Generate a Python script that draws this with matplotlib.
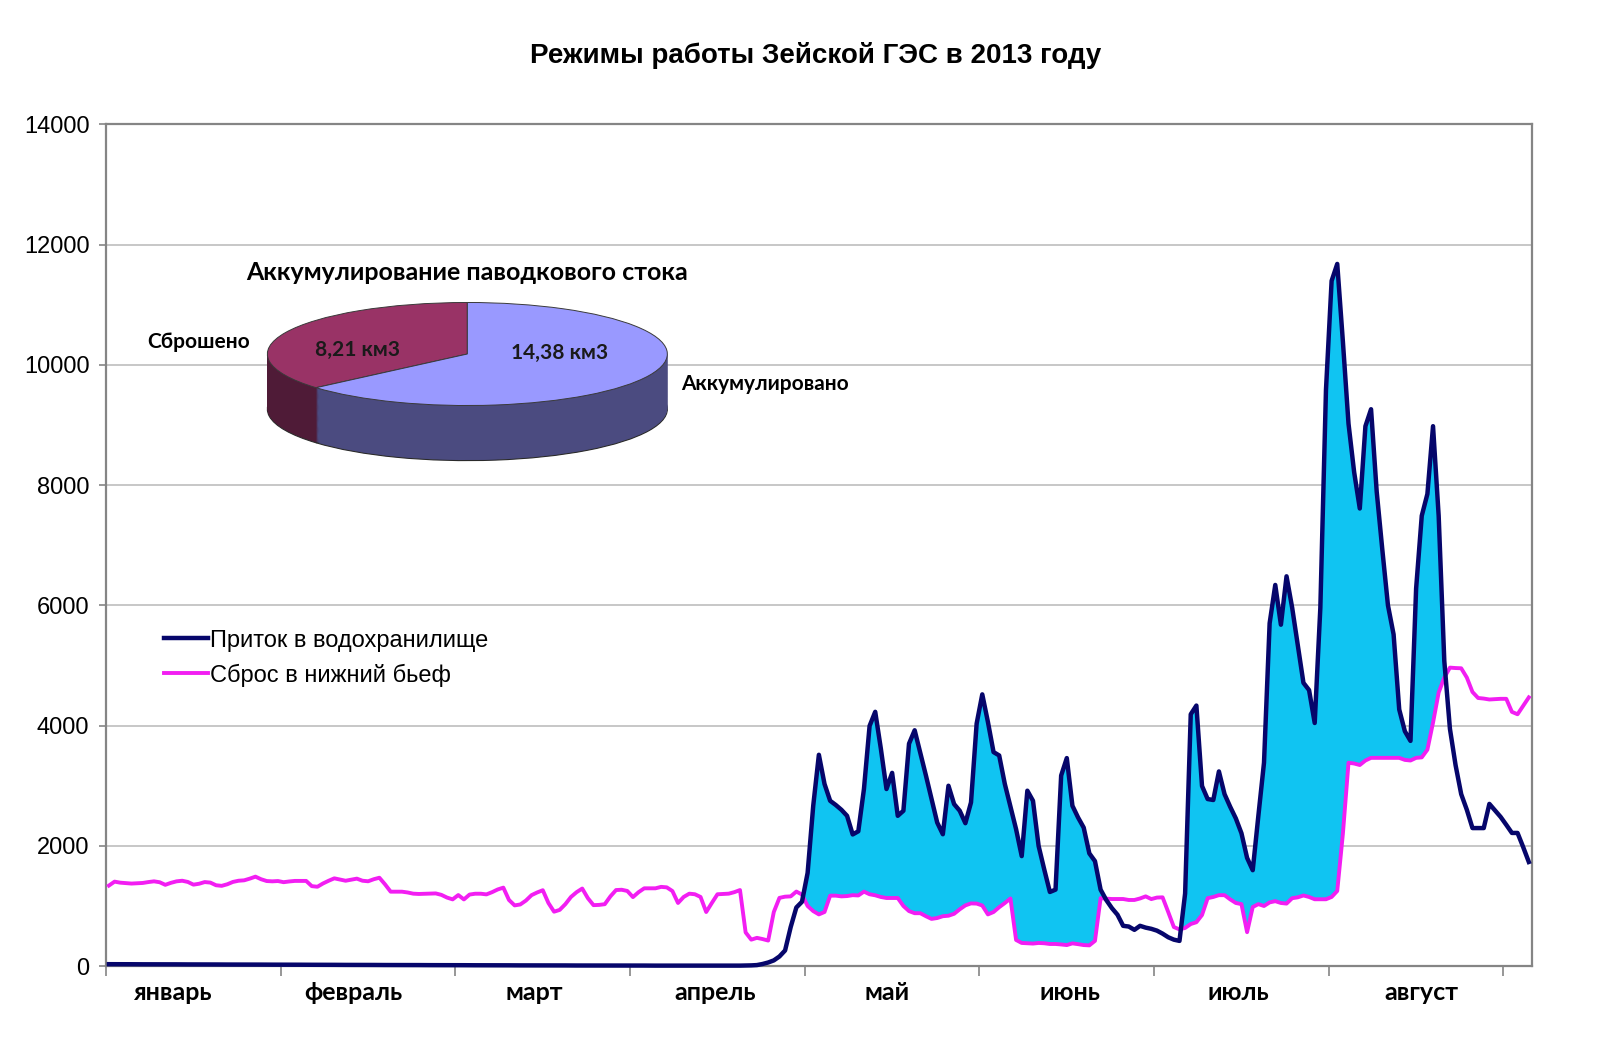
import numpy as np
import matplotlib
matplotlib.use("Agg")
import matplotlib.pyplot as plt
import matplotlib.transforms as mtransforms

# daily values, m3/s (Excel category axis, 31 points per month tick)
inflow_jan = [32, 32, 31, 31, 31, 30, 30, 30, 30, 30, 29, 29, 29, 28, 28, 28,
              28, 27, 27, 27, 26, 26, 26, 26, 25, 25, 25, 25, 24, 24, 24]
inflow_feb = [24, 23, 23, 23, 22, 22, 22, 21, 21, 21, 20, 20, 20, 20, 19, 19,
              19, 18, 18, 18, 18, 17, 17, 17, 17, 16, 16, 16, 16, 15, 15]
inflow_mar = [15, 15, 14, 14, 14, 14, 13, 13, 13, 13, 12, 12, 12, 12, 12, 11,
              11, 11, 11, 11, 10, 10, 10, 10, 10, 10, 9, 9, 9, 9, 9]
inflow_apr = [9, 9, 9, 8, 8, 8, 8, 8, 8, 8, 8, 8, 8, 8, 8, 8, 8, 8, 8, 8,
              10, 12, 17, 35, 60, 95, 160, 260, 650, 975, 1070]
inflow_may = [1550, 2670, 3515, 3030, 2750, 2680, 2600, 2500, 2190, 2243, 2946,
              3995, 4230, 3616, 2946, 3214, 2500, 2584, 3700, 3923, 3550, 3170,
              2780, 2388, 2193, 3000, 2695, 2584, 2377, 2723, 4034]
inflow_jun = [4520, 4062, 3560, 3504, 3030, 2650, 2277, 1830, 2918, 2750, 1998,
              1607, 1233, 1272, 3170, 3460, 2667, 2472, 2304, 1875, 1746, 1272,
              1100, 965, 854, 670, 658, 603, 670, 640, 620]
inflow_jul = [590, 540, 480, 440, 419, 1208, 4189, 4334, 2996, 2779, 2763, 3238,
              2860, 2650, 2457, 2210, 1800, 1595, 2500, 3383, 5703, 6340, 5679,
              6484, 5961, 5340, 4712, 4591, 4044, 5961, 9585]
inflow_aug = [11398, 11680, 10391, 9022, 8216, 7612, 8981, 9263, 7894, 6927,
              6001, 5518, 4269, 3907, 3746, 6283, 7491, 7854, 8981, 7491, 5075,
              3947, 3343, 2860, 2600, 2296, 2296, 2296, 2698, 2590, 2481]
inflow_sep = [2350, 2215, 2215, 1980, 1732]

outflow_jan = [1340, 1405, 1388, 1380, 1373, 1378, 1383, 1398, 1410, 1395, 1352,
               1385, 1410, 1420, 1400, 1355, 1370, 1398, 1389, 1345, 1335, 1361,
               1400, 1420, 1427, 1455, 1488, 1445, 1415, 1410, 1415]
outflow_feb = [1396, 1408, 1417, 1417, 1417, 1330, 1320, 1375, 1420, 1460, 1440,
               1420, 1437, 1455, 1420, 1411, 1445, 1470, 1360, 1238, 1238, 1238,
               1225, 1205, 1200, 1203, 1206, 1209, 1185, 1140, 1110]
outflow_mar = [1182, 1109, 1190, 1204, 1204, 1193, 1230, 1275, 1305, 1100, 1010,
               1025, 1090, 1180, 1225, 1262, 1050, 905, 935, 1030, 1150, 1230,
               1290, 1130, 1014, 1018, 1030, 1160, 1265, 1270, 1250]
outflow_apr = [1148, 1230, 1294, 1294, 1294, 1318, 1310, 1249, 1050, 1150, 1205,
               1195, 1150, 900, 1050, 1195, 1200, 1205, 1230, 1265, 560, 440,
               470, 450, 425, 900, 1135, 1155, 1160, 1240, 1190]
outflow_may = [1000, 915, 860, 900, 1172, 1172, 1160, 1165, 1180, 1175, 1239,
               1195, 1178, 1150, 1133, 1133, 1133, 1000, 915, 880, 880, 830, 785,
               800, 830, 838, 870, 945, 1010, 1043, 1040]
outflow_jun = [1008, 860, 900, 980, 1049, 1125, 435, 385, 380, 375, 385, 380,
               368, 368, 360, 350, 378, 365, 350, 345, 420, 1130, 1122, 1116,
               1116, 1116, 1100, 1100, 1125, 1160, 1115]
outflow_jul = [1140, 1144, 900, 650, 610, 635, 700, 730, 850, 1130, 1150, 1180,
               1180, 1110, 1050, 1031, 564, 983, 1031, 1000, 1060, 1080, 1050,
               1040, 1130, 1144, 1175, 1150, 1112, 1112, 1112]
outflow_aug = [1150, 1250, 2200, 3383, 3370, 3345, 3420, 3464, 3464, 3464, 3464,
               3464, 3464, 3430, 3420, 3464, 3472, 3600, 4050, 4550, 4800, 4965,
               4958, 4954, 4800, 4560, 4460, 4450, 4435, 4440, 4446]
outflow_sep = [4446, 4229, 4189, 4330, 4470]

months = ["январь", "февраль", "март", "апрель", "май", "июнь", "июль", "август"]

pie_labels = ["Сброшено", "Аккумулировано"]
pie_values = [8.21, 14.38]

inflow = np.array(inflow_jan + inflow_feb + inflow_mar + inflow_apr + inflow_may
                  + inflow_jun + inflow_jul + inflow_aug + inflow_sep, dtype=float)
outflow = np.array(outflow_jan + outflow_feb + outflow_mar + outflow_apr + outflow_may
                   + outflow_jun + outflow_jul + outflow_aug + outflow_sep, dtype=float)
n = len(inflow)
x = np.arange(n) + 0.5     # points sit between tick marks

ARIAL = "Liberation Sans"
CALIBRI = "Lato"

fig = plt.figure(figsize=(16, 10.62), dpi=100)
ax = fig.add_axes([104 / 1568, 1 - 947 / 1041, (1501 - 104) / 1568, (947 - 122) / 1041])

ax.fill_between(x, outflow, inflow, where=inflow > outflow, interpolate=True,
                color="#10c4f2", lw=0, zorder=2)
ax.plot(x, inflow, color="#06066b", lw=3.2, zorder=4, clip_on=False,
        label="Приток в водохранилище")
ax.plot(x, outflow, color="#f21ef2", lw=2.8, zorder=3, clip_on=False,
        label="Сброс в нижний бьеф")

ax.set_xlim(0, n)
ax.set_ylim(0, 14000)
ax.set_yticks(np.arange(0, 14001, 2000))
ax.set_xticks(np.arange(0, n, 31))
ax.set_xticklabels([])
ax.yaxis.grid(True, color="#b8b8b8", lw=1.1)
ax.set_axisbelow(True)
for s in ax.spines.values():
    s.set_color("#858585")
    s.set_linewidth(1.6)
ax.tick_params(axis="y", length=5, width=1.2, color="#858585", pad=7,
               labelsize=17)
ax.tick_params(axis="x", length=7, width=1.2, color="#858585", direction="out")
for lab in ax.get_yticklabels():
    lab.set_fontfamily(ARIAL)

# month names between ticks
label_pos = [0.38, 1.415, 2.45, 3.485, 4.47, 5.52, 6.48, 7.53]
trans = mtransforms.blended_transform_factory(ax.transData, ax.transAxes)
for m, p in zip(months, label_pos):
    ax.text(p * 31, -0.031, m, transform=trans, ha="center", va="center",
            fontsize=18, fontweight="bold", fontfamily=CALIBRI)

leg = ax.legend(loc="upper left", bbox_to_anchor=(0.026, 0.425), frameon=False,
                handlelength=1.85, handletextpad=0.08, labelspacing=0.5,
                prop={"family": ARIAL, "size": 17})

fig.text(0.51, 0.948, "Режимы работы Зейской ГЭС в 2013 году", ha="center",
         va="center", fontsize=20, fontweight="bold", fontfamily=ARIAL)

# 3d-looking pie: stacked pies for the side, then the top
cx, cy, a, b, depth = 458, 347, 196, 50.5, 54   # px in 1568x1041 frame
x0, x1, y0, y1 = -1.1, 1.1, -2.3, 1.1
pax = fig.add_axes([(cx + x0 * a) / 1568, 1 - (cy - y0 * b) / 1041,
                    (x1 - x0) * a / 1568, (y1 - y0) * b / 1041])
top_colors = ["#993366", "#9999ff"]
side_colors = ["#4f1b37", "#4b4b80"]
dz = depth / b
layers = 60
for k in range(layers, 0, -1):
    edge = "#2a2a2a" if k == layers else "none"
    pax.pie(pie_values, colors=side_colors, startangle=90, counterclock=True,
            center=(0, -dz * k / layers), radius=1,
            wedgeprops={"edgecolor": edge, "linewidth": 0.8})
pax.pie(pie_values, colors=top_colors, startangle=90, counterclock=True,
        center=(0, 0), radius=1,
        wedgeprops={"edgecolor": "#3a3a3a", "linewidth": 0.7})
pax.set_aspect("auto")
pax.set_xlim(x0, x1)
pax.set_ylim(y0, y1)
pax.axis("off")

val_txt = [f"{v:.2f}".replace(".", ",") + " км3" for v in pie_values]
pax.text(-0.55, 0.08, val_txt[0], ha="center", va="center", fontsize=15,
         fontweight="bold", fontfamily=CALIBRI, color="#1a1a1a")
pax.text(0.46, 0.02, val_txt[1], ha="center", va="center", fontsize=15,
         fontweight="bold", fontfamily=CALIBRI, color="#1a1a1a")
pax.text(-1.087, 0.24, pie_labels[0], ha="right", va="center", fontsize=15,
         fontweight="bold", fontfamily=CALIBRI)
pax.text(1.071, -0.574, pie_labels[1], ha="left", va="center", fontsize=15,
         fontweight="bold", fontfamily=CALIBRI)
pax.text(0, 1.58, "Аккумулирование паводкового стока", ha="center", va="center",
         fontsize=18, fontweight="bold", fontfamily=CALIBRI)

fig.savefig("out.png", dpi=100, facecolor="white")
